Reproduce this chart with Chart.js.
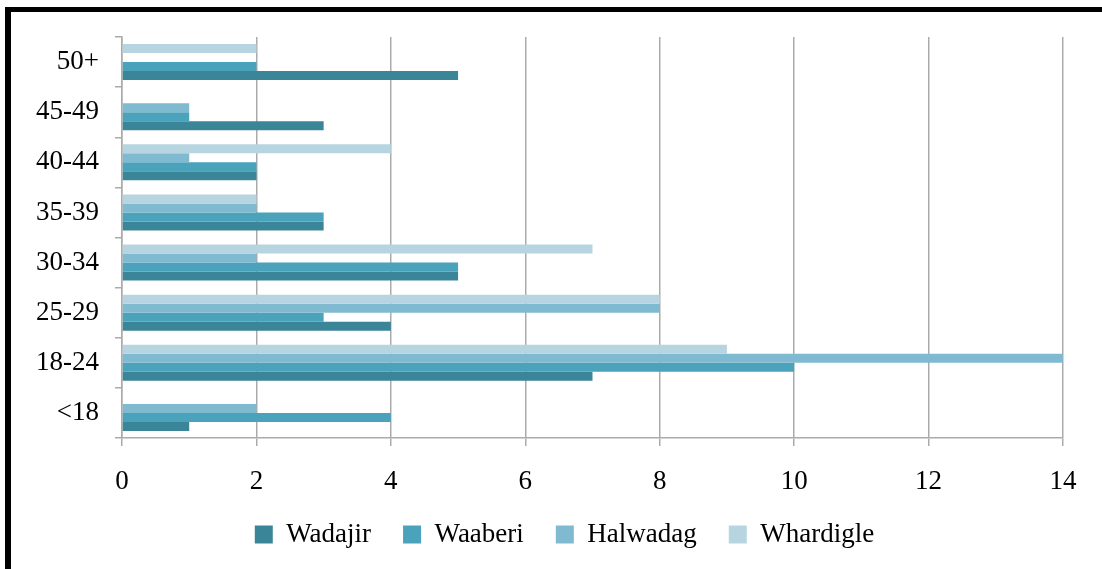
<!DOCTYPE html>
<html>
<head>
<meta charset="utf-8">
<script src="https://cdn.jsdelivr.net/npm/chart.js"></script>
<style>
  html, body { margin: 0; padding: 0; background: #fff; }
  #wrap { position: relative; width: 1102px; height: 569px; overflow: hidden; }
  #frame {
    position: absolute; left: 5px; top: 7px; width: 1200px; height: 700px;
    border-top: 5px solid #000; border-left: 6px solid #000;
  }
  canvas { position: absolute; left: 0; top: 0; }
</style>
</head>
<body>
<div id="wrap">
  <div id="frame"></div>
  <canvas id="chart" width="1102" height="569"></canvas>
</div>
<script>
// age groups, top to bottom as in the figure
const ageGroups = ['50+', '45-49', '40-44', '35-39', '30-34', '25-29', '18-24', '<18'];

const wadajir   = [5, 3, 2, 3, 5, 4, 7, 1];
const waaberi   = [2, 1, 2, 3, 5, 3, 10, 4];
const halwadag  = [0, 1, 1, 2, 2, 8, 14, 2];
const whardigle = [2, 0, 4, 2, 7, 8, 9, 0];

const xTicks = [0, 2, 4, 6, 8, 10, 12, 14];

const FONT = "'Liberation Serif', 'Times New Roman', serif";
const GRID = '#ababab';

// nudge the legend to where the original sits
const legendShift = {
  id: 'legendShift',
  afterLayout(chart) {
    const lg = chart.legend;
    if (!lg) return;
    lg.left += 17; lg.right += 17;
    lg.top -= 10; lg.bottom -= 10;
  }
};

// datasets go top-to-bottom inside each group, legend is reversed back
new Chart(document.getElementById('chart'), {
  type: 'bar',
  data: {
    labels: ageGroups,
    datasets: [
      { label: 'Whardigle', data: whardigle, backgroundColor: '#b7d5e0' },
      { label: 'Halwadag', data: halwadag, backgroundColor: '#7fbad0' },
      { label: 'Waaberi', data: waaberi, backgroundColor: '#4aa2bb' },
      { label: 'Wadajir', data: wadajir, backgroundColor: '#3b8599' }
    ]
  },
  plugins: [legendShift],
  options: {
    indexAxis: 'y',
    responsive: false,
    animation: false,
    categoryPercentage: 0.72,
    barPercentage: 1.0,
    layout: { padding: { left: 32, right: 39, top: 37, bottom: 1 } },
    plugins: {
      tooltip: { enabled: false },
      legend: {
        position: 'bottom',
        reverse: true,
        labels: {
          boxWidth: 18,
          boxHeight: 18,
          padding: 32,
          color: '#000',
          font: { family: FONT, size: 27 }
        }
      }
    },
    scales: {
      x: {
        min: 0,
        max: 14,
        afterBuildTicks: s => { s.ticks = xTicks.map(v => ({ value: v })); },
        afterFit: s => { s.height = 61; },
        grid: { color: GRID, lineWidth: 1.5, tickLength: 8 },
        border: { color: GRID, width: 1.5 },
        ticks: { color: '#000', padding: 20, font: { family: FONT, size: 27 } }
      },
      y: {
        afterFit: s => { s.width = 90; },
        grid: { drawOnChartArea: false, offset: true, color: GRID, lineWidth: 1.5, tickLength: 7 },
        border: { color: GRID, width: 1.5 },
        ticks: { color: '#000', padding: 16, font: { family: FONT, size: 27 } }
      }
    }
  }
});
</script>
</body>
</html>
